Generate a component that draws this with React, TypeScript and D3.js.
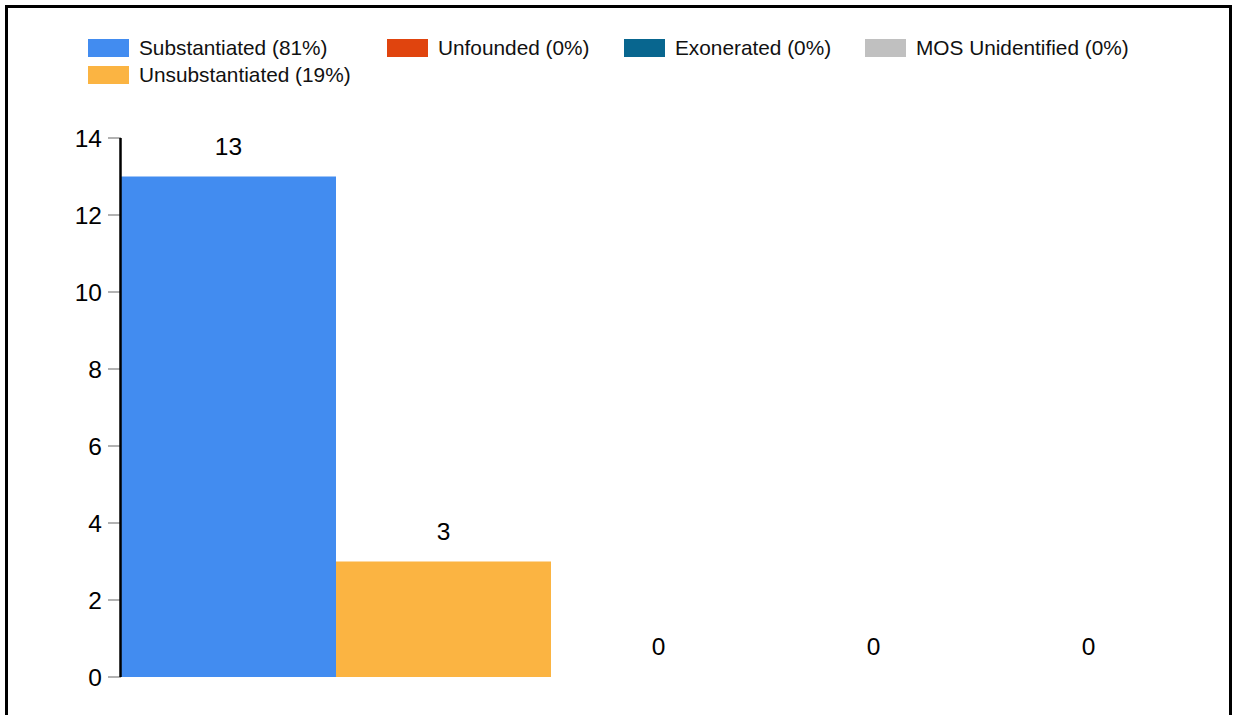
import React from "react";
import * as d3 from "d3";

const categories = ["Substantiated", "Unsubstantiated", "Unfounded", "Exonerated", "MOS Unidentified"];
const values = [13, 3, 0, 0, 0];
const colors = ["#428CF0", "#FBB442", "#E0440E", "#08668F", "#C0C0C0"];
const legendLabels = [
  "Substantiated (81%)",
  "Unfounded (0%)",
  "Exonerated (0%)",
  "MOS Unidentified (0%)",
  "Unsubstantiated (19%)",
];
const legendColors = ["#428CF0", "#E0440E", "#08668F", "#C0C0C0", "#FBB442"];
const yTicks = [0, 2, 4, 6, 8, 10, 12, 14];

const W = 1233;
const H = 715;
const FONT = "'Liberation Sans', Arial, sans-serif";

export default function App() {
  const x = d3.scaleBand<string>().domain(categories).range([121, 1196]).padding(0);
  const y = d3.scaleLinear().domain([0, 14]).range([677, 138]);

  const legendPos = [
    [88, 39],
    [387, 39],
    [624, 39],
    [865, 39],
    [88, 66],
  ];

  return (
    <svg
      width={W}
      height={H}
      style={{ position: "absolute", left: 0, top: 0, background: "#fff" }}
      fontFamily={FONT}
    >
      <rect x={6.5} y={6.5} width={1224} height={H + 20} fill="#fff" stroke="#000" strokeWidth={3} />
      {legendLabels.map((lab, i) => (
        <g key={lab} transform={`translate(${legendPos[i][0]},${legendPos[i][1]})`}>
          <rect x={0} y={0} width={41} height={18} fill={legendColors[i]} />
          <text x={51} y={16} fontSize={20.8} fill="#111">
            {lab}
          </text>
        </g>
      ))}
      {categories.map((c, i) => (
        <g key={c}>
          {values[i] > 0 && (
            <rect
              x={x(c)!}
              y={y(values[i])}
              width={x.bandwidth()}
              height={y(0) - y(values[i])}
              fill={colors[i]}
            />
          )}
          <text
            x={x(c)! + x.bandwidth() / 2}
            y={y(values[i]) - 22}
            textAnchor="middle"
            fontSize={24.5}
            fill="#000"
          >
            {values[i]}
          </text>
        </g>
      ))}
      <g>
        {yTicks.map((t) => (
          <g key={t} transform={`translate(0,${y(t)})`}>
            <line x1={108} x2={121} y1={0} y2={0} stroke="#999" strokeWidth={1.5} />
            <text x={102} y={8.5} textAnchor="end" fontSize={24.5} fill="#000">
              {t}
            </text>
          </g>
        ))}
        <line x1={120.5} x2={120.5} y1={y(14)} y2={y(0)} stroke="#000" strokeWidth={2.5} />
      </g>
    </svg>
  );
}
